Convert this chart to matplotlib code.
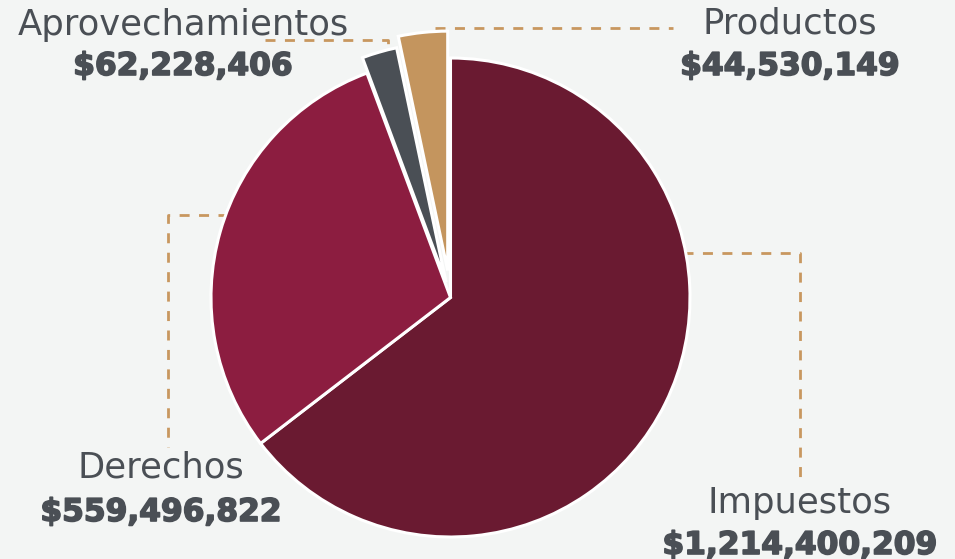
import matplotlib.pyplot as plt
import matplotlib.patheffects as pe

# Ingresos por rubro (orden de las rebanadas, en sentido horario desde arriba)
slices = ["Impuestos", "Derechos", "Productos", "Aprovechamientos"]
values = [1214400209, 559496822, 44530149, 62228406]
colors = ["#6a1a31", "#8c1d40", "#4a4f55", "#c4955e"]
explode = [0, 0, 16, 27]  # en pixeles (unidades de datos)

bg = "#f3f5f4"
txt = "#4a4f55"
gold = "#c8975f"

H = 559  # alto de la figura en px, para pasar coordenadas de imagen


def py(y):  # y de pixel (arriba=0) a y de datos
    return H - y


fig = plt.figure(figsize=(9.55, 5.59), dpi=100, facecolor=bg)
ax = fig.add_axes([0, 0, 1, 1])
ax.set_facecolor(bg)

ax.pie(values, colors=colors, explode=explode, startangle=90, counterclock=False,
       center=(450.5, py(297.5)), radius=239.5, frame=True,
       wedgeprops=dict(edgecolor="white", linewidth=2.2))
ax.set_xlim(0, 955)
ax.set_ylim(0, H)
ax.set_aspect("equal")
ax.axis("off")

# lineas guia punteadas
dash = dict(color=gold, lw=2, linestyle=(0, (3.6, 3.4)), zorder=0)
ax.plot([265, 388, 388], [py(40), py(40), py(50)], **dash)
ax.plot([435, 673], [py(28), py(28)], **dash)
ax.plot([228, 168, 168], [py(215), py(215), py(447)], **dash)
ax.plot([683, 800, 800], [py(253), py(253), py(483)], **dash)

# etiquetas: nombre y monto
pos = {
    "Aprovechamientos": (183, 35, 75),
    "Productos": (790, 34, 75),
    "Derechos": (161, 478, 521),
    "Impuestos": (800, 513, 554),
}
heavy = [pe.withStroke(linewidth=1.2, foreground=txt)]
for name, v in zip(slices, values):
    x, yb1, yb2 = pos[name]
    ax.text(x, py(yb1), name, ha="center", va="baseline", fontsize=25.5,
            color=txt, family="DejaVu Sans")
    ax.text(x, py(yb2), "${:,}".format(v), ha="center", va="baseline",
            fontsize=22.5, fontweight="bold", color=txt, family="DejaVu Sans",
            path_effects=heavy)

fig.savefig("out.png", dpi=100, facecolor=bg)
